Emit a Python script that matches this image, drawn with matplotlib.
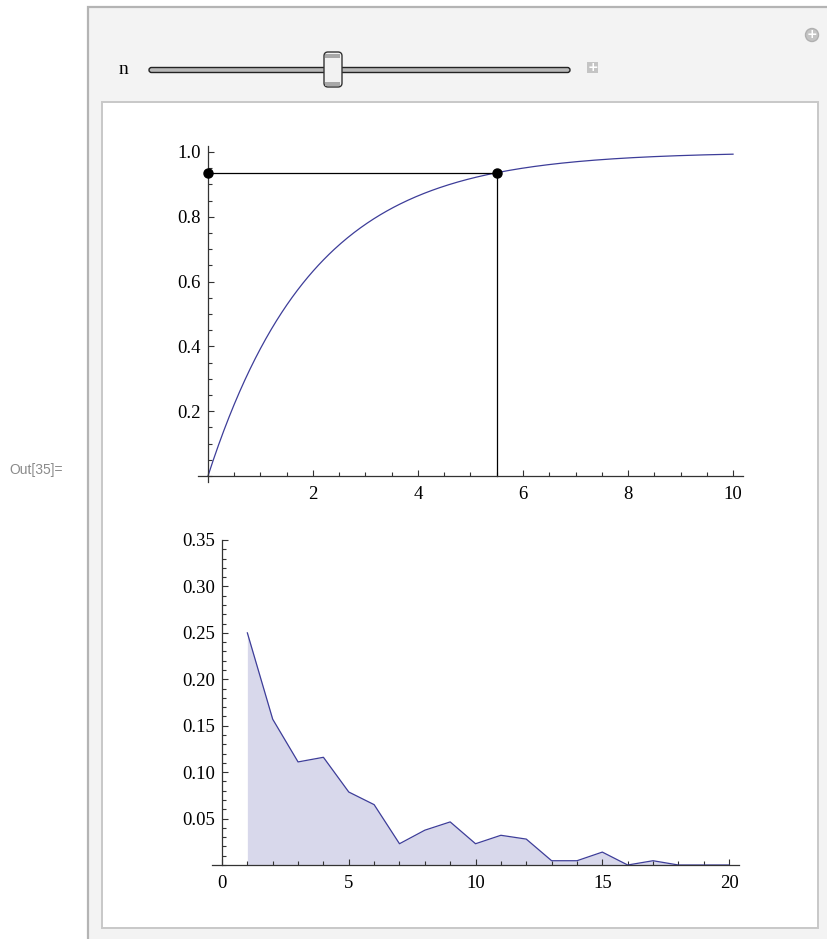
import numpy as np
import matplotlib
matplotlib.use("Agg")
import matplotlib.pyplot as plt
from matplotlib.patches import Rectangle, FancyBboxPatch, Circle
from matplotlib.ticker import MultipleLocator, FixedLocator

# data
rate = 0.5          # exponential CDF shown in the top panel
n_value = 5.5       # slider position, marked on the curve
x_curve = np.linspace(0, 10, 400)
y_curve = 1 - np.exp(-rate * x_curve)
y_n = 1 - np.exp(-rate * n_value)

k_values = np.arange(1, 21)
freq = [0.250, 0.157, 0.111, 0.116, 0.0786, 0.065, 0.0229, 0.0375, 0.0464, 0.0229,
        0.032, 0.0279, 0.0046, 0.0046, 0.0139, 0.0, 0.0046, 0.0, 0.0, 0.0]

top_xticks = [2, 4, 6, 8, 10]
top_yticks = [0.2, 0.4, 0.6, 0.8, 1.0]
bot_xticks = [0, 5, 10, 15, 20]
bot_yticks = [0.05, 0.10, 0.15, 0.20, 0.25, 0.30, 0.35]

W, H = 828, 939
line_col = "#3d3d99"
fill_col = "#d8d8eb"
serif = "Liberation Serif"

fig = plt.figure(figsize=(W / 100, H / 100), dpi=100)
fig.patch.set_facecolor("white")

# background panel (pixel coordinates)
bg = fig.add_axes([0, 0, 1, 1], zorder=-5)
bg.set_xlim(0, W)
bg.set_ylim(H, 0)
bg.axis("off")
bg.add_patch(Rectangle((88, 7), 760, 950, facecolor="#f3f3f3", edgecolor="#b4b4b4", linewidth=1.6))
bg.add_patch(Rectangle((102, 102), 716, 826, facecolor="white", edgecolor="#c8c8c8", linewidth=1.4))
bg.text(36, 470, "Out[35]=", color="#8a8a8a", fontsize=10, family="Liberation Sans",
        ha="center", va="center")

# slider
bg.text(123, 70, "n", fontsize=14, family=serif, ha="center", va="center")
bg.add_patch(FancyBboxPatch((149, 67.5), 421, 5, boxstyle="round,pad=0,rounding_size=2.5",
                            facecolor="#b8b8b8", edgecolor="#222222", linewidth=1.0))
bg.add_patch(FancyBboxPatch((324, 52), 18, 35, boxstyle="round,pad=0,rounding_size=4",
                            facecolor="#f2f2f2", edgecolor="#333333", linewidth=1.0))
bg.add_patch(Rectangle((325.5, 53.5), 15, 4, facecolor="#a8a8a8", edgecolor="none"))
bg.add_patch(Rectangle((325.5, 81.5), 15, 4, facecolor="#a8a8a8", edgecolor="none"))
bg.add_patch(Rectangle((587, 62), 11, 11, facecolor="#c4c4c4", edgecolor="none"))
bg.text(592.5, 67.5, "+", color="white", fontsize=9, ha="center", va="center", weight="bold")
bg.add_patch(Circle((812, 35), 6.5, facecolor="#c4c4c4", edgecolor="#b0b0b0"))
bg.text(812, 35, "+", color="white", fontsize=9, ha="center", va="center", weight="bold")


def px_axes(left, right, top, bottom):
    return fig.add_axes([left / W, 1 - bottom / H, (right - left) / W, (bottom - top) / H])


def style(ax):
    ax.patch.set_alpha(0)
    for s in ["top", "right"]:
        ax.spines[s].set_visible(False)
    for s in ["left", "bottom"]:
        ax.spines[s].set_position(("data", 0))
        ax.spines[s].set_color("#333333")
        ax.spines[s].set_linewidth(0.9)
    ax.tick_params(which="both", direction="in", color="#333333", width=0.8,
                   labelsize=13.5)
    ax.tick_params(which="major", length=4.3)
    ax.tick_params(axis="y", which="major", pad=5)
    ax.tick_params(axis="x", which="major", pad=7.5)
    ax.tick_params(which="minor", length=2.6)
    for lab in ax.get_xticklabels() + ax.get_yticklabels():
        lab.set_family(serif)


# top: cumulative curve
ax1 = px_axes(198, 743, 146, 482)
ax1.plot(x_curve, y_curve, color=line_col, linewidth=0.9)
ax1.plot([0, n_value], [y_n, y_n], color="black", linewidth=0.9)
ax1.plot([n_value, n_value], [0, y_n], color="black", linewidth=0.9)
ax1.plot([0, n_value], [y_n, y_n], "o", color="black", markersize=6.5, clip_on=False, zorder=5)
ax1.set_xlim(-0.19, 10.19)
ax1.set_ylim(-0.0185, 1.0185)
ax1.xaxis.set_major_locator(FixedLocator(top_xticks))
ax1.yaxis.set_major_locator(FixedLocator(top_yticks))
ax1.xaxis.set_minor_locator(MultipleLocator(0.5))
ax1.yaxis.set_minor_locator(MultipleLocator(0.05))
ax1.set_xticklabels([str(v) for v in top_xticks])
ax1.set_yticklabels(["%.1f" % v for v in top_yticks])
style(ax1)

# bottom: frequency polygon
ax2 = px_axes(211.6, 739, 540, 865)
ax2.fill_between(k_values, freq, 0, color=fill_col, linewidth=0)
ax2.plot(k_values, freq, color=line_col, linewidth=0.9, clip_on=False)
ax2.set_xlim(-0.41, 20.39)
ax2.set_ylim(0, 0.35)
ax2.xaxis.set_major_locator(FixedLocator(bot_xticks))
ax2.yaxis.set_major_locator(FixedLocator(bot_yticks))
ax2.xaxis.set_minor_locator(MultipleLocator(1))
ax2.yaxis.set_minor_locator(MultipleLocator(0.01))
ax2.set_xticklabels([str(v) for v in bot_xticks])
ax2.set_yticklabels(["%.2f" % v for v in bot_yticks])
style(ax2)

fig.savefig("out.png", dpi=100)
